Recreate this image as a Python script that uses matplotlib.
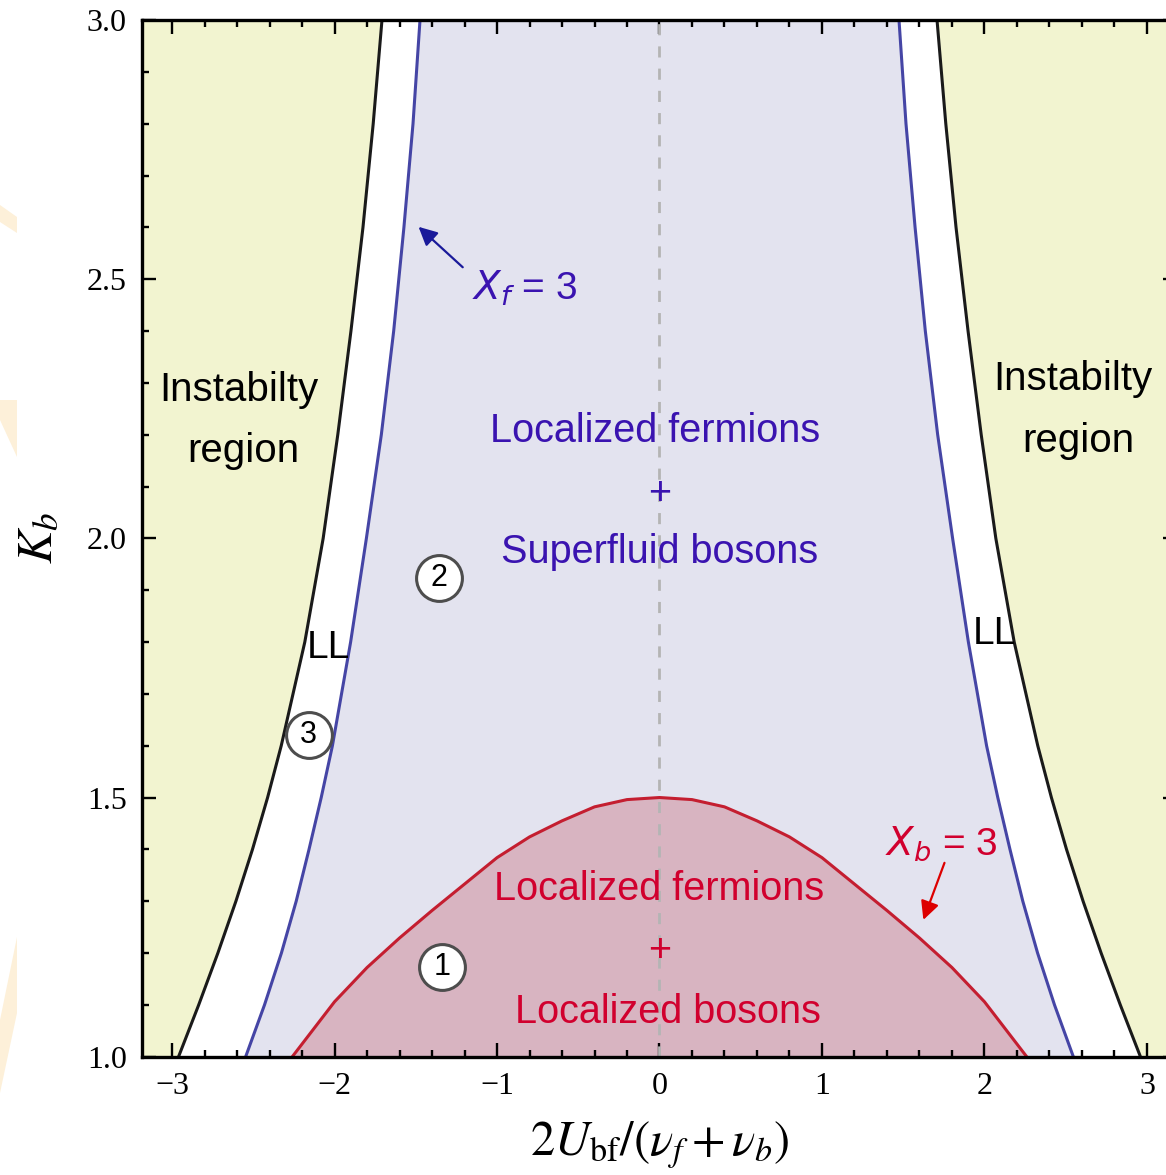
import numpy as np
import matplotlib
matplotlib.use("Agg")
import matplotlib.pyplot as plt
from matplotlib.patches import Polygon
from matplotlib.ticker import MultipleLocator, FormatStrFormatter

# boundary curves, left half (x < 0); the right half is the mirror image
k_grid = [3.0, 2.8, 2.6, 2.4, 2.2, 2.0, 1.8, 1.6, 1.5, 1.4, 1.3, 1.2, 1.1, 1.0]
x_instab = [-1.708, -1.762, -1.825, -1.899, -1.980, -2.070, -2.183, -2.328, -2.412, -2.505,
            -2.607, -2.718, -2.836, -2.960]
x_xf = [-1.474, -1.517, -1.573, -1.636, -1.712, -1.804, -1.901, -2.013, -2.082, -2.157,
        -2.236, -2.327, -2.431, -2.547]

# X_b = 3 line, right half (x >= 0)
x_xb = [0.0, 0.2, 0.4, 0.6, 0.8, 1.0, 1.2, 1.4, 1.6, 1.8, 2.0, 2.26]
k_xb = [1.500, 1.496, 1.482, 1.455, 1.424, 1.384, 1.333, 1.282, 1.229, 1.172, 1.106, 1.000]

# circled labels: (number, x, K_b)
markers = [("1", -1.337, 1.174), ("2", -1.357, 1.923), ("3", -2.159, 1.621)]

c_yellow = "#f2f4d0"
c_lav = "#e3e3ef"
c_pink = "#d8b4c1"
c_blue_line = "#4545a5"
c_red_line = "#c41e30"
c_blue_txt = "#3a13b0"
c_red_txt = "#d1002e"

plt.rcParams["mathtext.fontset"] = "stix"
sans = "Liberation Sans"

k_grid = np.array(k_grid)
x_instab = np.array(x_instab)
x_xf = np.array(x_xf)
x_red = np.concatenate([-np.array(x_xb[::-1]), np.array(x_xb[1:])])
k_red = np.concatenate([np.array(k_xb[::-1]), np.array(k_xb[1:])])

xmin, xmax = -3.185, 3.185
W, H = 1166, 1175

fig = plt.figure(figsize=(W / 100, H / 100), dpi=100)
ax = fig.add_axes([142 / W, 118.3 / H, 1035 / W, 1036.7 / H])

# faint marks at the left page edge
for pts in ([(0, 205), (17, 217), (17, 233), (0, 222)],
            [(0, 400), (17, 400), (17, 457), (0, 420)],
            [(17, 937), (17, 1013), (0, 1093), (0, 1020)]):
    fig.patches.append(Polygon([(px / W, 1 - py / H) for px, py in pts], closed=True,
                               transform=fig.transFigure, color="#fdf0d9", lw=0))

# regions
ax.fill_betweenx(k_grid, xmin, x_instab, color=c_yellow, lw=0)
ax.fill_betweenx(k_grid, -x_instab, xmax, color=c_yellow, lw=0)
ax.fill_betweenx(k_grid, x_xf, -x_xf, color=c_lav, lw=0)
ax.fill_between(x_red, 1.0, k_red, color=c_pink, lw=0)

# boundaries
ax.plot(x_instab, k_grid, color="#1a1a1a", lw=2.2)
ax.plot(-x_instab, k_grid, color="#1a1a1a", lw=2.2)
ax.plot(x_xf, k_grid, color=c_blue_line, lw=2.2)
ax.plot(-x_xf, k_grid, color=c_blue_line, lw=2.2)
ax.plot(x_red, k_red, color=c_red_line, lw=2.2)
ax.axvline(0, color="#b4b4b4", lw=2.0, dashes=(4, 4))

# region labels
ax.text(-2.589, 2.265, "Instabilty", ha="center", va="baseline", fontsize=29, family=sans)
ax.text(-2.56, 2.147, "region", ha="center", va="baseline", fontsize=29, family=sans)
ax.text(2.543, 2.286, "Instabilty", ha="center", va="baseline", fontsize=29, family=sans)
ax.text(2.577, 2.167, "region", ha="center", va="baseline", fontsize=29, family=sans)

ax.text(-0.028, 2.186, "Localized fermions", ha="center", va="baseline", fontsize=28.5,
        family=sans, color=c_blue_txt)
ax.text(0.0, 2.064, "+", ha="center", va="baseline", fontsize=28.5, family=sans, color=c_blue_txt)
ax.text(0.003, 1.952, "Superfluid bosons", ha="center", va="baseline", fontsize=28.5,
        family=sans, color=c_blue_txt)

ax.text(0.0, 1.302, "Localized fermions", ha="center", va="baseline", fontsize=28.5,
        family=sans, color=c_red_txt)
ax.text(0.0, 1.183, "+", ha="center", va="baseline", fontsize=28.5, family=sans, color=c_red_txt)
ax.text(0.055, 1.065, "Localized bosons", ha="center", va="baseline", fontsize=28.5,
        family=sans, color=c_red_txt)

ax.text(-2.038, 1.789, "LL", ha="center", va="center", fontsize=28, family=sans)
ax.text(2.059, 1.816, "LL", ha="center", va="center", fontsize=28, family=sans)

# X_f and X_b annotations
ax.text(-0.832, 2.46, r"$X_f$ = 3", ha="center", va="baseline", fontsize=28, family=sans,
        color=c_blue_txt, math_fontfamily="dejavusans")
ax.annotate("", xy=(-1.483, 2.601), xytext=(-1.211, 2.523),
            arrowprops=dict(arrowstyle="-|>", color="#1a1a9a", lw=1.6, mutation_scale=28,
                            shrinkA=0, shrinkB=0))
ax.text(1.735, 1.389, r"$X_b$ = 3", ha="center", va="baseline", fontsize=28, family=sans,
        color=c_red_txt, math_fontfamily="dejavusans")
ax.annotate("", xy=(1.624, 1.264), xytext=(1.754, 1.374),
            arrowprops=dict(arrowstyle="-|>", color="#dd0000", lw=1.6, mutation_scale=28,
                            shrinkA=0, shrinkB=0))

for num, mx, my in markers:
    ax.plot(mx, my, "o", ms=33, mfc="white", mec="#4d4d4d", mew=2.2, zorder=5)
    ax.text(mx, my, num, ha="center", va="center", fontsize=22, family=sans, zorder=6)

ax.set_xlim(xmin, xmax)
ax.set_ylim(1.0, 3.0)

ax.xaxis.set_major_locator(MultipleLocator(1))
ax.xaxis.set_minor_locator(MultipleLocator(0.2))
ax.yaxis.set_major_locator(MultipleLocator(0.5))
ax.yaxis.set_minor_locator(MultipleLocator(0.1))
ax.yaxis.set_major_formatter(FormatStrFormatter("%.1f"))
ax.tick_params(which="both", direction="in", top=True, right=True, width=1.7, color="black")
ax.tick_params(which="major", length=10, pad=11)
ax.tick_params(which="minor", length=5)
for lab in ax.get_xticklabels() + ax.get_yticklabels():
    lab.set_family("Liberation Serif")
    lab.set_fontsize(23)
for sp in ax.spines.values():
    sp.set_linewidth(2.4)

ax.set_xlabel(r"$2U_{\mathrm{bf}}/(\nu_f+\nu_b)$", fontsize=35)
ax.xaxis.set_label_coords(0.5, -0.06)
ax.set_ylabel(r"$K_b$", fontsize=36)
ax.yaxis.set_label_coords(-0.078, 0.5)

fig.savefig("out.png", dpi=100)
